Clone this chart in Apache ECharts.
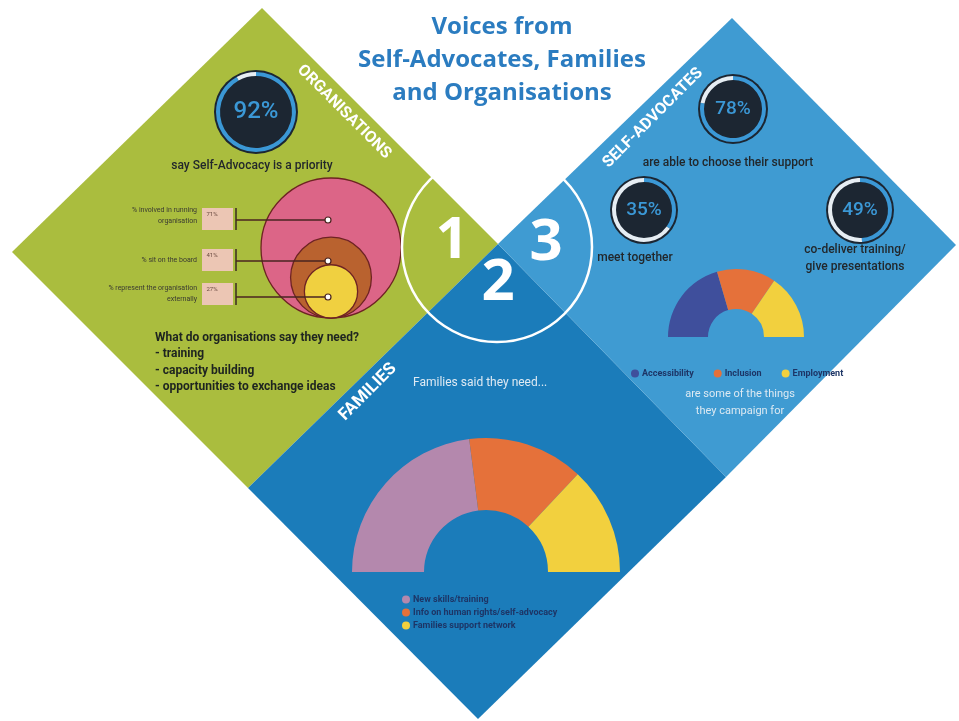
<!DOCTYPE html>
<html>
<head>
<meta charset="utf-8">
<title>Voices from Self-Advocates, Families and Organisations</title>
<script src="https://cdn.jsdelivr.net/npm/echarts@6/dist/echarts.min.js"></script>
<style>
  html, body { margin: 0; padding: 0; background: #ffffff; }
  #chart { width: 959px; height: 721px; }
</style>
</head>
<body>
<div id="chart"></div>
<script>
// ---- data ----
const titleLines = ['Voices from', 'Self-Advocates, Families', 'and Organisations'];
const sectionNames = ['ORGANISATIONS', 'FAMILIES', 'SELF-ADVOCATES'];
const sectionNumbers = ['1', '2', '3'];

const gaugeValues = [92, 78, 35, 49];
const gaugeCaptions = [
  'say Self-Advocacy is a priority',
  'are able to choose their support',
  'meet together',
  'co-deliver training/\ngive presentations'
];

const orgRoleLabels = ['% involved in running\norganisation', '% sit on the board', '% represent the organisation\nexternally'];
const orgRoleValues = [71, 41, 27];
const orgNeedsTitle = 'What do organisations say they need?';
const orgNeeds = ['training', 'capacity building', 'opportunities to exchange ideas'];

const campaignNames = ['Accessibility', 'Inclusion', 'Employment'];
const campaignValues = [41, 28, 31];
const campaignCaption = 'are some of the things\nthey campaign for';

const familyIntro = 'Families said they need...';
const familyNeedNames = ['New skills/training', 'Info on human rights/self-advocacy', 'Families support network'];
const familyNeedValues = [46, 28, 26];

// ---- layout & style ----
const GREEN = '#aabd3e', DARK_BLUE = '#1b7cba', LIGHT_BLUE = '#3f9bd2';
const RING_BLUE = '#3b98d6', RING_REST = '#e6edf3', DISC = '#1c2632';
const TEXT_DARK = '#22272b', LEGEND_TEXT = '#1d3566';

const gaugeLayout = [
  { c: [256, 112], r: 42, font: 24, cap: [252, 166] },
  { c: [733, 109], r: 35, font: 19, cap: [728, 163] },
  { c: [644, 210], r: 34, font: 19, cap: [635, 258] },
  { c: [860, 210], r: 34, font: 19, cap: [855, 258] }
];

const nestBase = { x: 331, bottom: 318, scale: 70 / 71 };
const nestColors = ['#dc6587', '#b9622f', '#f0d040'];
const roleRows = [
  { labelY: 216, boxTop: 208, boxH: 22, dot: [328, 220] },
  { labelY: 260, boxTop: 249, boxH: 22, dot: [328, 261] },
  { labelY: 294, boxTop: 283, boxH: 22, dot: [328, 297] }
];

const campaignColors = ['#3f4f9c', '#e5713a', '#f2d03e'];
const familyColors = ['#b488ad', '#e5713a', '#f2d03e'];

const chart = echarts.init(document.getElementById('chart'), null, { renderer: 'canvas' });

// diamond backgrounds
const graphics = [
  { type: 'polygon', z: 0, shape: { points: [[262, 8], [498, 244], [248, 488], [12, 252]] }, style: { fill: GREEN } },
  { type: 'polygon', z: 0, shape: { points: [[498, 244], [726, 477], [478, 719], [248, 488]] }, style: { fill: DARK_BLUE } },
  { type: 'polygon', z: 0, shape: { points: [[732, 18], [956, 245], [726, 477], [498, 244]] }, style: { fill: LIGHT_BLUE } },
  // section ring and numbers
  { type: 'circle', z: 20, shape: { cx: 497, cy: 247, r: 95 }, style: { fill: 'none', stroke: '#ffffff', lineWidth: 2.5 } },
  { type: 'text', z: 20, x: 452, y: 241, style: { text: sectionNumbers[0], fill: '#ffffff', font: 'bold 58px "Open Sans"', align: 'center', verticalAlign: 'middle' } },
  { type: 'text', z: 20, x: 498, y: 283, style: { text: sectionNumbers[1], fill: '#ffffff', font: 'bold 58px "Open Sans"', align: 'center', verticalAlign: 'middle' } },
  { type: 'text', z: 20, x: 546, y: 243, style: { text: sectionNumbers[2], fill: '#ffffff', font: 'bold 58px "Open Sans"', align: 'center', verticalAlign: 'middle' } },
  // section names along the diamond edges
  { type: 'text', z: 20, x: 344, y: 112, rotation: -Math.PI / 4, style: { text: sectionNames[0], fill: '#ffffff', font: 'bold 16px Roboto', align: 'center', verticalAlign: 'middle' } },
  { type: 'text', z: 20, x: 368, y: 392, rotation: Math.PI / 4, style: { text: sectionNames[1], fill: '#ffffff', font: 'bold 17px Roboto', align: 'center', verticalAlign: 'middle' } },
  { type: 'text', z: 20, x: 653, y: 118, rotation: Math.PI / 4, style: { text: sectionNames[2], fill: '#ffffff', font: 'bold 16px Roboto', align: 'center', verticalAlign: 'middle' } }
];

// gauge captions
gaugeCaptions.forEach((t, i) => {
  graphics.push({
    type: 'text', z: 20, x: gaugeLayout[i].cap[0], y: gaugeLayout[i].cap[1],
    style: { text: t, fill: TEXT_DARK, font: '500 12px Roboto', align: 'center', verticalAlign: 'middle', lineHeight: 17 }
  });
});

// organisation role labels, boxes and connectors
orgRoleLabels.forEach((t, i) => {
  const row = roleRows[i];
  graphics.push({
    type: 'text', z: 20, x: 197, y: row.labelY,
    style: { text: t, fill: '#3a3a32', font: '7px Roboto', align: 'right', verticalAlign: 'middle', lineHeight: 11 }
  });
  graphics.push({ type: 'rect', z: 20, shape: { x: 202, y: row.boxTop, width: 31, height: row.boxH }, style: { fill: '#ecc6b4' } });
  graphics.push({
    type: 'text', z: 21, x: 212, y: row.boxTop + 6,
    style: { text: orgRoleValues[i] + '%', fill: '#6a4a40', font: '6px Roboto', align: 'center', verticalAlign: 'middle' }
  });
  graphics.push({ type: 'line', z: 20, shape: { x1: 236, y1: row.boxTop, x2: 236, y2: row.boxTop + row.boxH }, style: { stroke: '#3a2a22', lineWidth: 1.5 } });
  graphics.push({ type: 'line', z: 20, shape: { x1: 236, y1: row.dot[1], x2: row.dot[0] - 3, y2: row.dot[1] }, style: { stroke: '#4a2420', lineWidth: 1.5 } });
  graphics.push({ type: 'circle', z: 21, shape: { cx: row.dot[0], cy: row.dot[1], r: 3 }, style: { fill: '#ffffff', stroke: '#4a2420', lineWidth: 1.2 } });
});

// organisation needs list
graphics.push({ type: 'text', z: 20, x: 155, y: 338, style: { text: orgNeedsTitle, fill: '#1e2420', font: 'bold 12px Roboto', verticalAlign: 'middle' } });
orgNeeds.forEach((t, i) => {
  graphics.push({ type: 'text', z: 20, x: 155, y: 354 + i * 16.5, style: { text: '- ' + t, fill: '#1e2420', font: 'bold 12px Roboto', verticalAlign: 'middle' } });
});

// self-advocates campaign caption and families intro
graphics.push({ type: 'text', z: 20, x: 740, y: 403, style: { text: campaignCaption, fill: '#dce9f2', font: '11px Roboto', align: 'center', verticalAlign: 'middle', lineHeight: 17 } });
graphics.push({ type: 'text', z: 20, x: 413, y: 383, style: { text: familyIntro, fill: '#dfeaf3', font: '12px Roboto', verticalAlign: 'middle' } });

// ---- series ----
const series = [];

// percentage rings
gaugeValues.forEach((v, i) => {
  const g = gaugeLayout[i];
  series.push({
    type: 'pie', silent: true, center: g.c, radius: [0, g.r], z: 2,
    label: { show: false }, labelLine: { show: false },
    data: [{ value: 1, name: 'disc' + i, itemStyle: { color: DISC } }]
  });
  series.push({
    type: 'pie', silent: true, center: g.c, radius: [g.r - 6, g.r - 2], startAngle: 90, clockwise: true, z: 3,
    labelLine: { show: false },
    data: [
      { value: v, name: 'share' + i, itemStyle: { color: RING_BLUE },
        label: { show: true, position: 'center', formatter: '{c}%', color: RING_BLUE, fontSize: g.font, fontFamily: 'Roboto', fontWeight: 500 } },
      { value: 100 - v, name: 'rest' + i, itemStyle: { color: RING_REST }, label: { show: false } }
    ]
  });
});

// nested circles for organisation roles (radius proportional to value)
orgRoleValues.forEach((v, i) => {
  const r = v * nestBase.scale;
  series.push({
    type: 'pie', silent: true, center: [nestBase.x, nestBase.bottom - r], radius: [0, r], z: 4 + i,
    label: { show: false }, labelLine: { show: false },
    data: [{ value: v, name: 'role' + i, itemStyle: { color: nestColors[i], borderColor: '#6e2323', borderWidth: 1.3 } }]
  });
});

// self-advocates campaign half donut
series.push({
  type: 'pie', silent: true, center: [736, 337], radius: [28, 68],
  startAngle: 180, endAngle: 0, clockwise: true, z: 4,
  label: { show: false }, labelLine: { show: false },
  data: campaignNames.map((n, i) => ({ name: n, value: campaignValues[i], itemStyle: { color: campaignColors[i] } }))
});

// families needs half donut
series.push({
  type: 'pie', silent: true, center: [486, 572], radius: [62, 134],
  startAngle: 180, endAngle: 0, clockwise: true, z: 4,
  label: { show: false }, labelLine: { show: false },
  data: familyNeedNames.map((n, i) => ({ name: n, value: familyNeedValues[i], itemStyle: { color: familyColors[i] } }))
});

const option = {
  backgroundColor: '#ffffff',
  animation: false,
  title: {
    text: titleLines.join('\n'),
    left: 497, top: 6, textAlign: 'center',
    textStyle: { color: '#2b7cc0', fontSize: 24, fontWeight: 'bold', fontFamily: '"Open Sans"', lineHeight: 33 }
  },
  legend: [
    {
      data: campaignNames, left: 626, top: 364, orient: 'horizontal', itemGap: 20,
      icon: 'circle', itemWidth: 8, itemHeight: 8, selectedMode: false,
      textStyle: { color: LEGEND_TEXT, fontSize: 9, fontWeight: 'bold', fontFamily: 'Roboto', padding: [0, 0, 0, -2] }
    },
    {
      data: familyNeedNames, left: 397, top: 590, orient: 'vertical', itemGap: 4,
      icon: 'circle', itemWidth: 8, itemHeight: 8, selectedMode: false,
      textStyle: { color: LEGEND_TEXT, fontSize: 9, fontWeight: 'bold', fontFamily: 'Roboto', padding: [0, 0, 0, -2] }
    }
  ],
  graphic: { elements: graphics },
  series: series
};

chart.setOption(option);
</script>
</body>
</html>
